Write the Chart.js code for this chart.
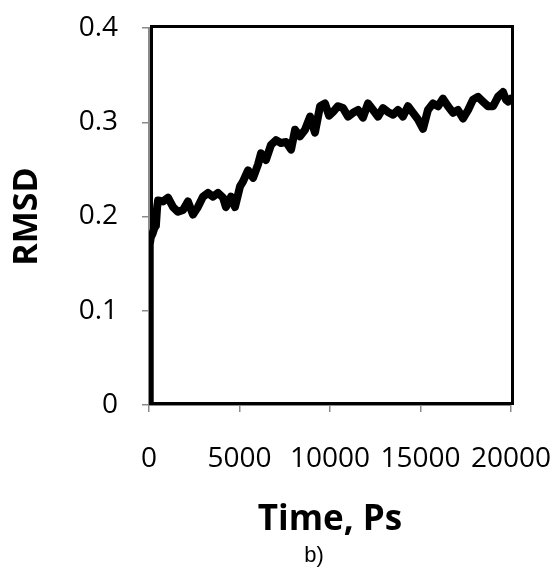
<!DOCTYPE html>
<html>
<head>
<meta charset="utf-8">
<script src="https://cdn.jsdelivr.net/npm/chart.js@4"></script>
<style>
  html, body { margin: 0; padding: 0; background: #fff; }
  #wrap { width: 553px; height: 577px; }
</style>
</head>
<body>
<div id="wrap"><canvas id="c" width="553" height="577"></canvas></div>
<script>
// time in ps
const times = [0, 40, 100, 200, 300, 380, 450, 500, 770, 1050, 1330, 1600, 1880, 2150, 2430,
  2700, 2980, 3260, 3540, 3810, 4090, 4250, 4530, 4750, 5030, 5190, 5470, 5750, 6020, 6190,
  6460, 6740, 7020, 7290, 7570, 7850, 8070, 8340, 8620, 8900, 9170, 9450, 9720, 9950, 10170,
  10440, 10720, 11000, 11270, 11550, 11820, 12100, 12380, 12650, 12930, 13200, 13480, 13760, 14030, 14310,
  14590, 14860, 15140, 15410, 15690, 15970, 16240, 16520, 16800, 17070, 17350, 17630, 17900, 18180, 18450,
  18730, 19010, 19280, 19560, 19720, 19840, 20000];

// RMSD values
const rmsd = [0, 0.17, 0.178, 0.182, 0.188, 0.19, 0.21, 0.217, 0.216, 0.22, 0.21, 0.205, 0.207, 0.216, 0.202,
  0.21, 0.221, 0.225, 0.221, 0.225, 0.22, 0.21, 0.221, 0.21, 0.232, 0.237, 0.249, 0.241, 0.255, 0.267,
  0.26, 0.276, 0.281, 0.278, 0.279, 0.271, 0.292, 0.285, 0.292, 0.306, 0.289, 0.317, 0.32, 0.307, 0.311,
  0.317, 0.315, 0.306, 0.31, 0.313, 0.305, 0.32, 0.313, 0.306, 0.315, 0.311, 0.308, 0.313, 0.306, 0.317,
  0.31, 0.303, 0.293, 0.313, 0.32, 0.317, 0.325, 0.317, 0.31, 0.313, 0.304, 0.313, 0.324, 0.327, 0.322,
  0.317, 0.317, 0.327, 0.332, 0.324, 0.322, 0.325];

const xTicks = [0, 5000, 10000, 15000, 20000];
const yTicks = [0, 0.1, 0.2, 0.3, 0.4];

const tickFont = { family: 'Open Sans', size: 28 };
const axisGray = '#8a8a8a';

// black box round the plot area, and the "b)" caption under the chart
const frame = {
  id: 'frame',
  beforeDatasetsDraw(chart) {
    const a = chart.chartArea;
    const ctx = chart.ctx;
    ctx.save();
    ctx.strokeStyle = '#000';
    ctx.lineWidth = 3;
    ctx.strokeRect(a.left + 2.5, a.top - 1.5, a.right - a.left - 1, a.bottom - a.top);
    ctx.restore();
  },
  afterDraw(chart) {
    const a = chart.chartArea;
    const ctx = chart.ctx;
    ctx.save();
    ctx.fillStyle = '#000';
    ctx.font = '22px "Liberation Sans"';
    ctx.textAlign = 'center';
    ctx.textBaseline = 'middle';
    ctx.fillText('b)', a.left + 165, chart.height - 21);
    ctx.restore();
  }
};

new Chart(document.getElementById('c'), {
  type: 'line',
  data: {
    datasets: [{
      data: times.map((t, i) => ({ x: t, y: rmsd[i] })),
      borderColor: '#000',
      borderWidth: 8,
      pointRadius: 0,
      tension: 0,
      borderJoinStyle: 'round',
      borderCapStyle: 'round'
    }]
  },
  options: {
    responsive: false,
    animation: false,
    layout: { autoPadding: false, padding: { top: 28, right: 42, left: 0, bottom: 34 } },
    plugins: {
      legend: { display: false },
      tooltip: { enabled: false }
    },
    scales: {
      x: {
        type: 'linear',
        min: 0,
        max: 20000,
        afterFit(s) {
          s.height = 138;
          s.paddingLeft = 0;
          s.paddingRight = 0;
        },
        afterBuildTicks(s) { s.ticks = xTicks.map(v => ({ value: v })); },
        ticks: {
          font: tickFont,
          color: '#000',
          padding: 30,
          maxRotation: 0,
          autoSkip: false,
          callback: v => String(v)
        },
        grid: { drawOnChartArea: false, drawTicks: true, tickLength: 7, color: axisGray, lineWidth: 1.5 },
        border: { display: true, color: axisGray, width: 2 },
        title: {
          display: true,
          text: 'Time, Ps',
          color: '#000',
          font: { family: 'Open Sans', size: 35, weight: 'bold' },
          padding: { top: 0, bottom: 2 }
        }
      },
      y: {
        min: 0,
        max: 0.4,
        afterFit(s) {
          s.width = 149;
          s.paddingTop = 0;
          s.paddingBottom = 0;
        },
        afterBuildTicks(s) { s.ticks = yTicks.map(v => ({ value: v })); },
        ticks: {
          font: tickFont,
          color: '#000',
          padding: 24,
          callback: v => String(+v.toFixed(1))
        },
        grid: { drawOnChartArea: false, drawTicks: true, tickLength: 7, color: axisGray, lineWidth: 1.5 },
        border: { display: true, color: axisGray, width: 2 },
        title: {
          display: true,
          text: 'RMSD',
          color: '#000',
          font: { family: 'Open Sans', size: 34, weight: 'bold' },
          padding: { top: 7, bottom: 0 }
        }
      }
    }
  },
  plugins: [frame]
});
</script>
</body>
</html>
